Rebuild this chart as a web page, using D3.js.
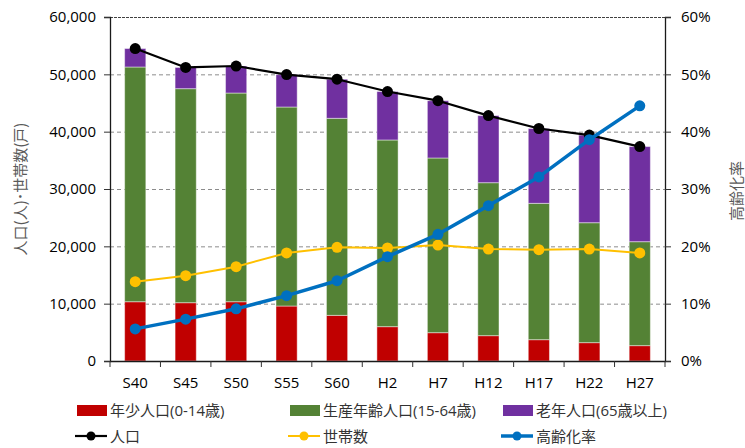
<!doctype html>
<html lang='ja'>
<head>
    <meta charset='UTF-8'>
    <title>人口・世帯数の推移</title>
    <script src='https://cdn.jsdelivr.net/npm/d3@7/dist/d3.min.js'></script>
    <style>
        body { margin: 0; background: #fff; }
        text { font-family: 'Open Sans', 'Noto Sans CJK JP', sans-serif; }
        .jp { font-family: 'Noto Sans CJK JP', sans-serif; }
    </style>
</head>
<body>
<div id='chart'></div>
<script>
    // 年次
    var years = ['S40', 'S45', 'S50', 'S55', 'S60', 'H2', 'H7', 'H12', 'H17', 'H22', 'H27'];
    // 年齢3区分人口
    var young = [10340, 10170, 10340, 9590, 7960, 5990, 4940, 4420, 3720, 3200, 2680];
    var working = [40940, 37330, 36400, 34710, 34370, 32560, 30470, 26680, 23780, 20920, 18130];
    var elderly = [3220, 3700, 4710, 5650, 6820, 8450, 9990, 11700, 13050, 15280, 16590];
    // 総人口・世帯数・高齢化率(%)
    var population = [54500, 51200, 51450, 49950, 49150, 47000, 45400, 42800, 40550, 39400, 37400];
    var households = [13830, 14880, 16450, 18840, 19830, 19710, 20230, 19530, 19420, 19530, 18840];
    var agingRate = [5.6, 7.3, 9.1, 11.4, 14.0, 18.2, 22.1, 27.1, 32.1, 38.6, 44.5];
    var leftTicks = [0, 10000, 20000, 30000, 40000, 50000, 60000];
    var rightTicks = [0, 10, 20, 30, 40, 50, 60];

    var SIZE = { width: 745, height: 448 };
    var M = { left: 110, top: 17, right: 80, bottom: 87 };

    function draw() {
        var svg = d3.select('#chart').append('svg')
            .attr('width', SIZE.width).attr('height', SIZE.height);
        var x0 = M.left, x1 = SIZE.width - M.right, yb = SIZE.height - M.bottom;

        var x = d3.scaleBand().domain(years).range([x0, x1]).paddingInner(0.58).paddingOuter(0.29);
        var y = d3.scaleLinear().domain([0, 60000]).range([yb, M.top]);
        var yr = d3.scaleLinear().domain([0, 60]).range([yb, M.top]);
        var cx = function (d, i) { return x(years[i]) + x.bandwidth() / 2; };

        // 補助線
        svg.append('g').selectAll('line').data(leftTicks.slice(1)).join('line')
            .attr('x1', x0).attr('x2', x1)
            .attr('y1', function (d) { return y(d) + 0.5; }).attr('y2', function (d) { return y(d) + 0.5; })
            .attr('stroke', function (d) { return d == 60000 ? '#404040' : '#8c8c8c'; })
            .attr('stroke-width', 1)
            .attr('stroke-dasharray', function (d) { return d == 60000 ? '3,1' : '4,3'; });

        // 積み上げ棒
        var stackData = years.map(function (k, i) { return { young: young[i], working: working[i], elderly: elderly[i] }; });
        var series = d3.stack().keys(['young', 'working', 'elderly'])(stackData);
        var barColors = { young: '#C00000', working: '#548235', elderly: '#7030A0' };
        svg.append('g').selectAll('g').data(series).join('g')
            .attr('fill', function (s) { return barColors[s.key]; })
            .selectAll('rect').data(function (s) { return s; }).join('rect')
            .attr('x', function (d, i) { return x(years[i]); })
            .attr('width', x.bandwidth())
            .attr('y', function (d) { return y(d[1]); })
            .attr('height', function (d) { return y(d[0]) - y(d[1]); })
            .attr('stroke', 'rgba(255,255,255,0.45)')
            .attr('stroke-width', 1);

        // 軸
        var yAxisL = d3.axisLeft(y).tickValues(leftTicks).tickSize(6).tickPadding(8).tickFormat(d3.format(','));
        var gl = svg.append('g').attr('transform', 'translate(' + x0 + ',0)').call(yAxisL);
        var yAxisR = d3.axisRight(yr).tickValues(rightTicks).tickSize(6).tickPadding(10).tickFormat(function (d) { return d + '%'; });
        var gr = svg.append('g').attr('transform', 'translate(' + x1 + ',0)').call(yAxisR);
        [gl, gr].forEach(function (g) {
            g.select('.domain').attr('stroke', '#1a1a1a').attr('stroke-width', 1.3);
            g.selectAll('.tick line').attr('stroke', '#333');
            g.selectAll('text').attr('font-size', 15).attr('fill', '#000').attr('font-family', 'Open Sans');
        });

        var xAxis = d3.axisBottom(x).tickSize(0).tickPadding(16);
        var gx = svg.append('g').attr('transform', 'translate(0,' + yb + ')').call(xAxis);
        gx.select('.domain').attr('stroke', '#1a1a1a').attr('stroke-width', 1.3);
        gx.selectAll('text').attr('font-size', 15).attr('fill', '#000').attr('font-family', 'Open Sans');
        // カテゴリ境界の目盛
        gx.append('g').selectAll('line').data(d3.range(years.length + 1)).join('line')
            .attr('x1', function (i) { return x0 + i * x.step(); })
            .attr('x2', function (i) { return x0 + i * x.step(); })
            .attr('y1', 0).attr('y2', 6)
            .attr('stroke', '#333');

        // 軸タイトル
        var midY = (M.top + yb) / 2;
        svg.append('text').attr('class', 'jp')
            .attr('transform', 'translate(26,' + midY + ')rotate(-90)')
            .attr('text-anchor', 'middle')
            .attr('font-size', 15).attr('fill', '#595959')
            .text('人口(人)･世帯数(戸)');
        svg.append('text').attr('class', 'jp')
            .attr('transform', 'translate(742,' + (midY + 2) + ')rotate(-90)')
            .attr('text-anchor', 'middle')
            .attr('font-size', 15).attr('fill', '#595959')
            .text('高齢化率');

        // 折れ線
        var lines = [
            { name: '世帯数', data: households, scale: y, color: '#FFC000', width: 2, r: 5.5 },
            { name: '人口', data: population, scale: y, color: '#000000', width: 2.2, r: 5.5 },
            { name: '高齢化率', data: agingRate, scale: yr, color: '#0070C0', width: 3.5, r: 5.5 }
        ];
        lines.forEach(function (ln) {
            var gen = d3.line().x(cx).y(function (d) { return ln.scale(d); });
            svg.append('path').attr('d', gen(ln.data))
                .attr('fill', 'none').attr('stroke', ln.color)
                .attr('stroke-width', ln.width).attr('stroke-linejoin', 'round');
            svg.append('g').selectAll('circle').data(ln.data).join('circle')
                .attr('cx', cx).attr('cy', function (d) { return ln.scale(d); })
                .attr('r', ln.r).attr('fill', ln.color);
        });

        // 凡例
        var legendX = [77, 290, 503];
        var legendBars = [
            { name: '年少人口(0-14歳)', color: '#C00000' },
            { name: '生産年齢人口(15-64歳)', color: '#548235' },
            { name: '老年人口(65歳以上)', color: '#7030A0' }
        ];
        var legendLines = [
            { name: '人口', color: '#000000', width: 2.2 },
            { name: '世帯数', color: '#FFC000', width: 2 },
            { name: '高齢化率', color: '#0070C0', width: 3.5 }
        ];
        var lg = svg.append('g').attr('class', 'jp');
        legendBars.forEach(function (d, i) {
            lg.append('rect').attr('x', legendX[i]).attr('y', 405).attr('width', 30).attr('height', 11).attr('fill', d.color);
            lg.append('text').attr('x', legendX[i] + 33).attr('y', 416).attr('font-size', 15).attr('fill', '#333')
                .attr('font-family', 'Noto Sans CJK JP').text(d.name);
        });
        legendLines.forEach(function (d, i) {
            lg.append('line').attr('x1', legendX[i] - 2).attr('x2', legendX[i] + 30).attr('y1', 436).attr('y2', 436)
                .attr('stroke', d.color).attr('stroke-width', d.width);
            lg.append('circle').attr('cx', legendX[i] + 14).attr('cy', 436).attr('r', 4.5).attr('fill', d.color);
            lg.append('text').attr('x', legendX[i] + 33).attr('y', 442).attr('font-size', 15).attr('fill', '#333')
                .attr('font-family', 'Noto Sans CJK JP').text(d.name);
        });
    }

    draw();
</script>
</body>
</html>
